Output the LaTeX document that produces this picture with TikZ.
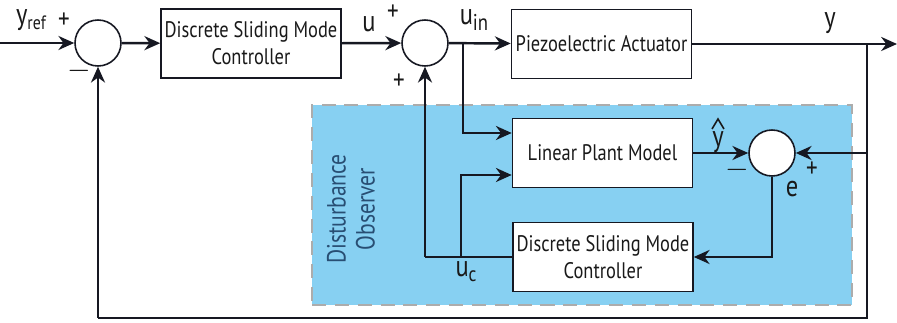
\documentclass[tikz,border=0pt]{standalone}
\usepackage{fontspec}
\setmainfont{PT Sans}[FakeStretch=0.82]
\usetikzlibrary{positioning,arrows.meta}
\definecolor{obsblue}{RGB}{135,208,242}
\definecolor{linecol}{RGB}{22,24,34}
\definecolor{obstext}{RGB}{40,78,115}

\begin{document}
\begin{tikzpicture}[x=0.02cm,y=-0.02cm,
  box/.style={rectangle,draw=linecol,fill=white,line width=0.9pt,minimum width=3.6cm,minimum height=1.38cm,inner xsep=1pt,font=\fontsize{12.8}{15.5}\selectfont,align=center,text=black!90},
  sumj/.style={circle,draw=linecol,fill=white,line width=0.9pt,minimum size=0.92cm,inner sep=0pt},
  arr/.style={-{Stealth[length=9pt,width=8pt]},line width=1.4pt,draw=linecol},
  ln/.style={line width=1.4pt,draw=linecol},
  lbl/.style={font=\fontsize{17}{17}\selectfont,text=black!90,inner sep=0pt},
  sgn/.style={font=\fontsize{16}{16}\selectfont,text=black!90,inner sep=0pt}]
  \useasboundingbox (0,0) rectangle (897,323);
  % observer region
  \node[rectangle,draw=gray!65,dashed,dash pattern=on 8pt off 5pt,fill=obsblue,line width=0.8pt,minimum width=10.8cm,minimum height=4cm] (obs) at (582,205) {};
  \node[rotate=90,align=center,font=\fontsize{15}{16.5}\selectfont,text=obstext] (obslbl) at (351,209) {Disturbance\\Observer};
  % blocks
  \node[sumj] (s1) at (98,43) {};
  \node[box] (dsmc) at (251,43.5) {Discrete Sliding Mode\\Controller};
  \node[sumj] (s2) at (425,43) {};
  \node[box] (pzt) at (601.5,44) {Piezoelectric Actuator};
  \node[box] (lpm) at (602.5,153) {Linear Plant Model};
  \node[sumj] (s3) at (772,153) {};
  \node[box] (dsmc2) at (603,257) {Discrete Sliding Mode\\Controller};
  % junctions and corners
  \coordinate (in) at (0,43);
  \coordinate (out) at (897,44);
  \coordinate (tap) at (867,44);
  \coordinate (tapm) at (867,153);
  \coordinate (br) at (867,318);
  \coordinate (bl) at (98,318);
  \coordinate (uin) at (463,43);
  \coordinate (uin2) at (463,133);
  \coordinate (uc) at (461,257);
  \coordinate (uc2) at (461,175);
  \coordinate (fb2) at (425,257);
  \coordinate (ec) at (772,257);
  % main path
  \draw[arr] (in) -- (s1);
  \draw[arr] (s1) -- (dsmc);
  \draw[arr] (dsmc) -- (s2);
  \draw[arr] (s2) -- (pzt);
  \draw[arr] (pzt.east) -- (out);
  % outer feedback
  \draw[ln] (tap) -- (br) -- (bl);
  \draw[arr] (bl) -- (s1.south);
  \draw[arr] (tapm) -- (s3.east);
  % observer
  \draw[arr] (uin) -- (uin2) -- (uin2 -| lpm.west);
  \draw[arr] (lpm.east |- s3) -- (s3.west);
  \draw[arr] (s3.south) -- (ec) -- (dsmc2.east);
  \draw[ln] (dsmc2.west) -- (fb2);
  \draw[arr] (fb2) -- (s2.south);
  \draw[arr] (uc) -- (uc2) -- (uc2 -| lpm.west);
  % labels
  \node[lbl] (yref) at (31,20) {y\raisebox{-0.35ex}{\fontsize{11}{11}\selectfont ref}};
  \node[sgn] (p1) at (64,21) {+};
  \node[sgn] (m1) at (79,71) {$-$};
  \node[lbl] (ulbl) at (369,24) {u};
  \node[sgn] (p2) at (393,13) {+};
  \node[sgn] (p3) at (399,82) {+};
  \node[lbl] (uinlbl) at (474,20) {u\raisebox{-0.35ex}{\fontsize{13}{13}\selectfont in}};
  \node[lbl] (ylbl) at (830,23) {y};
  \node[lbl,anchor=north] (yhat) at (718,131) {y};
  \draw[line width=0.9pt,draw=black!90] (yhat.north) ++(-6,-2) -- ++(6,-10) -- ++(6,10);
  \node[sgn] (m3) at (737,170) {$-$};
  \node[sgn] (p4) at (812,170) {+};
  \node[lbl] (elbl) at (792,189) {e};
  \node[lbl] (uclbl) at (466,272) {u\raisebox{-0.35ex}{\fontsize{12}{12}\selectfont c}};
\end{tikzpicture}
\end{document}
